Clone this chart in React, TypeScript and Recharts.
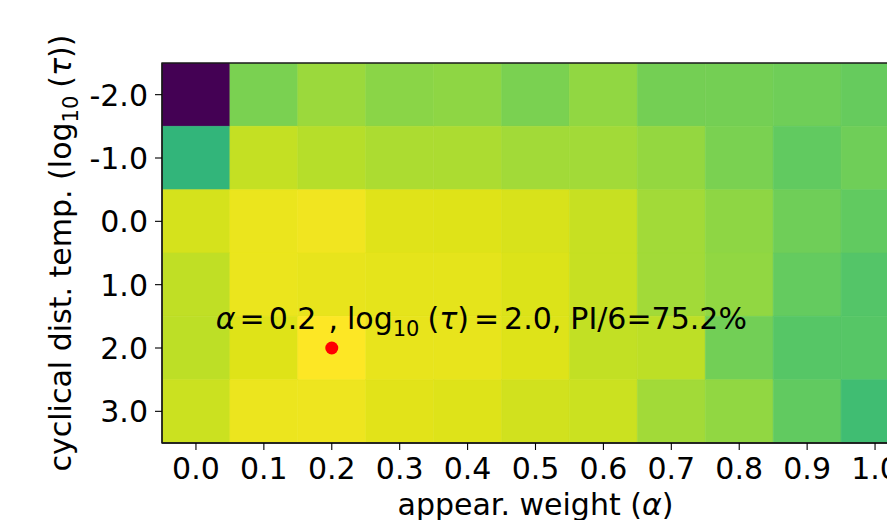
import React from 'react';
import { ComposedChart, XAxis, YAxis, Scatter, ReferenceArea, Label } from 'recharts';

// appearance weight alpha (x axis)
const alphaValues = [0.0, 0.1, 0.2, 0.3, 0.4, 0.5, 0.6, 0.7, 0.8, 0.9, 1.0];
const alphaLabels = ['0.0', '0.1', '0.2', '0.3', '0.4', '0.5', '0.6', '0.7', '0.8', '0.9', '1.0'];
// cyclical distribution temperature log10(tau) (y axis)
const tauValues = [-2, -1, 0, 1, 2, 3];
const tauLabels = ['-2.0', '-1.0', '0.0', '1.0', '2.0', '3.0'];

// normalised PI/6 score (colour scale position) per log10(tau) row, across alpha
const scoreTauM2 = [0.0, 0.8, 0.85, 0.825, 0.83, 0.8, 0.835, 0.79, 0.79, 0.78, 0.765];
const scoreTauM1 = [0.66, 0.91, 0.89, 0.875, 0.875, 0.86, 0.86, 0.84, 0.8, 0.755, 0.78];
const scoreTau0 = [0.935, 0.97, 0.98, 0.952, 0.95, 0.94, 0.915, 0.86, 0.83, 0.78, 0.755];
const scoreTau1 = [0.905, 0.97, 0.965, 0.96, 0.96, 0.945, 0.915, 0.86, 0.835, 0.76, 0.73];
const scoreTau2 = [0.9, 0.95, 1.0, 0.965, 0.965, 0.948, 0.908, 0.9, 0.785, 0.735, 0.735];
const scoreTau3 = [0.92, 0.972, 0.975, 0.955, 0.948, 0.93, 0.92, 0.86, 0.835, 0.755, 0.69];
const scoreRows = [scoreTauM2, scoreTauM1, scoreTau0, scoreTau1, scoreTau2, scoreTau3];

// best setting
const best = [{ alpha: 0.2, tau: 2.0 }];
const bestPI = '75.2%';

// viridis colormap stops (position, rgb)
const viridisStops: [number, number[]][] = [
  [0.0, [68, 1, 84]], [0.1, [72, 36, 117]], [0.2, [65, 68, 135]], [0.3, [53, 95, 141]],
  [0.4, [42, 120, 142]], [0.5, [33, 145, 140]], [0.6, [34, 168, 132]], [0.65, [46, 179, 124]],
  [0.7, [68, 191, 112]], [0.75, [94, 201, 98]], [0.8, [122, 209, 81]], [0.85, [155, 217, 60]],
  [0.9, [189, 223, 38]], [0.95, [223, 227, 24]], [1.0, [253, 231, 37]],
];

function colorOf(t: number): string {
  const v = Math.max(0, Math.min(1, t));
  for (let i = 0; i < viridisStops.length - 1; i++) {
    const [p0, c0] = viridisStops[i];
    const [p1, c1] = viridisStops[i + 1];
    if (v >= p0 && v <= p1) {
      const f = (v - p0) / (p1 - p0);
      const c = c0.map((x, k) => Math.round(x + (c1[k] - x) * f));
      return `rgb(${c[0]},${c[1]},${c[2]})`;
    }
  }
  const c = viridisStops[viridisStops.length - 1][1];
  return `rgb(${c[0]},${c[1]},${c[2]})`;
}

const halfW = (alphaValues[1] - alphaValues[0]) / 2;
const halfH = (tauValues[1] - tauValues[0]) / 2;

const cells = tauValues.flatMap((tau, i) =>
  alphaValues.map((alpha, j) => ({
    key: `${i}-${j}`,
    x1: alpha - halfW,
    x2: alpha + halfW,
    y1: tau - halfH,
    y2: tau + halfH,
    color: colorOf(scoreRows[i][j]),
  }))
);

const FONT = 'DejaVu Sans';

const XTick = (props: any) => {
  const { x, y, payload } = props;
  const idx = alphaValues.findIndex((a) => Math.abs(a - payload.value) < 1e-9);
  const text = idx >= 0 ? alphaLabels[idx] : Number(payload.value).toFixed(1);
  return (
    <text x={x} y={y} dy={27} textAnchor="middle" fontSize={30} fontFamily={FONT} fill="#000">
      {text}
    </text>
  );
};

const YTick = (props: any) => {
  const { x, y, payload } = props;
  const idx = tauValues.findIndex((a) => Math.abs(a - payload.value) < 1e-9);
  const text = idx >= 0 ? tauLabels[idx] : Number(payload.value).toFixed(1);
  return (
    <text x={x} y={y} dy={11} textAnchor="end" fontSize={30} fontFamily={FONT} fill="#000">
      {text}
    </text>
  );
};

const XLabel = (props: any) => {
  const vb = props.viewBox || { x: 162, y: 443, width: 747, height: 77 };
  const x = vb.x + vb.width / 2;
  const y = vb.y + 72;
  return (
    <text x={x} y={y} textAnchor="middle" fontSize={30} fontFamily={FONT} fill="#000">
      appear. weight (<tspan fontStyle="italic">α</tspan>)
    </text>
  );
};

const YLabel = (props: any) => {
  const vb = props.viewBox || { x: 0, y: 63, width: 162, height: 380 };
  const x = vb.x + 71;
  const y = vb.y + vb.height / 2;
  return (
    <text x={x} y={y} transform={`rotate(-90 ${x} ${y})`} textAnchor="middle" fontSize={30} fontFamily={FONT} fill="#000">
      cyclical dist. temp. (log
      <tspan fontSize={21} dy={7}>10</tspan>
      <tspan dy={-7} dx={8}>(</tspan>
      <tspan fontStyle="italic">τ</tspan>
      <tspan>))</tspan>
    </text>
  );
};

const BestShape = (props: any) => {
  const { cx, cy, payload } = props;
  return (
    <g>
      <circle cx={cx} cy={cy} r={6.5} fill="#ff0000" />
      <text x={cx - 116} y={cy - 19} fontSize={30} fontFamily={FONT} fill="#000">
        <tspan fontStyle="italic">α</tspan>
        <tspan dx={4}>=</tspan>
        <tspan dx={4}>{payload.alpha.toFixed(1)}</tspan>
        <tspan dx={12}>,</tspan>
        <tspan dx={9}>log</tspan>
        <tspan fontSize={21} dy={7}>10</tspan>
        <tspan dy={-7} dx={8}>(</tspan>
        <tspan fontStyle="italic">τ</tspan>
        <tspan>)</tspan>
        <tspan dx={5}>=</tspan>
        <tspan dx={5}>{payload.tau.toFixed(1)},</tspan>
        <tspan dx={9}>PI/6={bestPI}</tspan>
      </text>
    </g>
  );
};

export default function App() {
  return (
    <div style={{ position: 'fixed', left: 0, top: 0, width: 887, height: 520, overflow: 'hidden', background: '#fff' }}>
      <ComposedChart width={960} height={520} margin={{ top: 63, right: 51, bottom: 0, left: 0 }}>
        <XAxis
          type="number"
          dataKey="alpha"
          domain={[alphaValues[0] - halfW, alphaValues[alphaValues.length - 1] + halfW]}
          ticks={alphaValues}
          interval={0}
          height={77}
          tickSize={7}
          tickMargin={2}
          tick={<XTick />}
          tickLine={{ stroke: '#000', strokeWidth: 1.1 }}
          axisLine={{ stroke: '#1a1a1a', strokeWidth: 1.3 }}
          allowDataOverflow
        >
          <Label content={<XLabel />} />
        </XAxis>
        <YAxis
          type="number"
          dataKey="tau"
          domain={[tauValues[0] - halfH, tauValues[tauValues.length - 1] + halfH]}
          ticks={tauValues}
          interval={0}
          reversed
          width={162}
          tickSize={7}
          tickMargin={7}
          tick={<YTick />}
          tickLine={{ stroke: '#000', strokeWidth: 1.1 }}
          axisLine={{ stroke: '#1a1a1a', strokeWidth: 1.3 }}
          allowDataOverflow
        >
          <Label content={<YLabel />} />
        </YAxis>
        {cells.map((c) => (
          <ReferenceArea
            key={c.key}
            x1={c.x1}
            x2={c.x2}
            y1={c.y1}
            y2={c.y2}
            fill={c.color}
            fillOpacity={1}
            stroke={c.color}
            strokeWidth={0.6}
            ifOverflow="hidden"
          />
        ))}
        <ReferenceArea
          x1={alphaValues[0] - halfW}
          x2={alphaValues[alphaValues.length - 1] + halfW}
          y1={tauValues[0] - halfH}
          y2={tauValues[tauValues.length - 1] + halfH}
          fill="none"
          stroke="#1a1a1a"
          strokeWidth={1.3}
          ifOverflow="visible"
        />
        <Scatter data={best} dataKey="tau" shape={<BestShape />} isAnimationActive={false} />
      </ComposedChart>
    </div>
  );
}
